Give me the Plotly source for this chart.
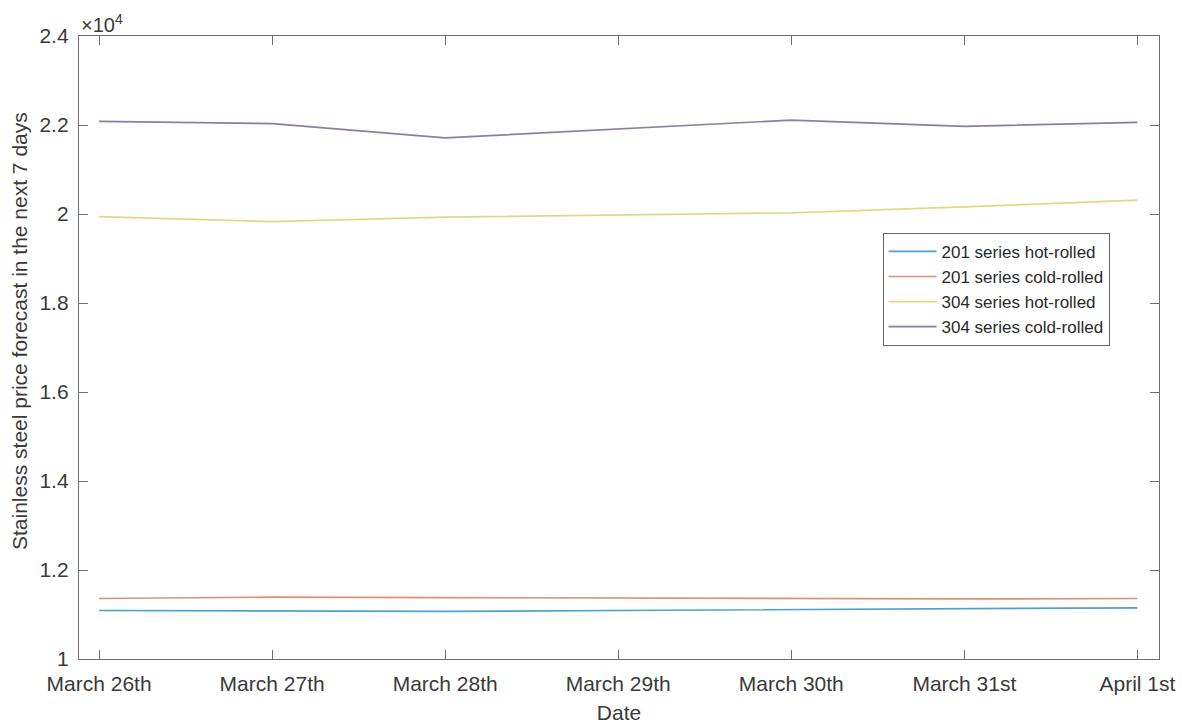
import plotly.graph_objects as go

dates = ["March 26th", "March 27th", "March 28th", "March 29th", "March 30th", "March 31st", "April 1st"]
hot_201 = [11090, 11080, 11070, 11090, 11110, 11120, 11150]
cold_201 = [11360, 11390, 11380, 11370, 11350, 11350, 11360]
hot_304 = [19940, 19830, 19930, 19985, 20025, 20160, 20310]
cold_304 = [22080, 22030, 21710, 21910, 22110, 21970, 22060]
series_names = ["201 series hot-rolled", "201 series cold-rolled", "304 series hot-rolled", "304 series cold-rolled"]
y_ticks = [10000, 12000, 14000, 16000, 18000, 20000, 22000, 24000]
y_tick_text = ["1", "1.2", "1.4", "1.6", "1.8", "2", "2.2", "2.4"]
y_title = "Stainless steel price forecast in the next 7 days"

colors = ["#4f9fcf", "#dc9272", "#e6d684", "#8c7ea2"]
series = [hot_201, cold_201, hot_304, cold_304]

fig = go.Figure()
x = list(range(len(dates)))
for name, vals, c in zip(series_names, series, colors):
    fig.add_trace(go.Scatter(x=x, y=vals, mode="lines", name=name,
                             line=dict(color=c, width=1.7)))

font = "Liberation Sans, Arial, sans-serif"
fig.update_layout(
    width=1179, height=718,
    margin=dict(l=71, r=28, t=28, b=67, autoexpand=False),
    paper_bgcolor="white", plot_bgcolor="white",
    font=dict(family=font, size=21, color="#3a3a3a"),
    showlegend=True,
    legend=dict(x=0.744, y=0.684, xanchor="left", yanchor="top",
                bordercolor="#666666", borderwidth=1, bgcolor="white",
                font=dict(size=17, color="#2a2a2a"), tracegroupgap=0,
                itemwidth=48),
    xaxis=dict(range=[-0.116, 6.125], tickmode="array", tickvals=x, ticktext=dates,
               showgrid=False, zeroline=False, showline=True, linecolor="#707070",
               linewidth=1.3, mirror="ticks", ticks="inside", ticklen=9,
               tickcolor="#707070", tickfont=dict(size=21, color="#3a3a3a"),
               ticklabelstandoff=6,
               title=dict(text="Date", font=dict(size=21, color="#3a3a3a"), standoff=10)),
    yaxis=dict(range=[10000, 24000], tickmode="array", tickvals=y_ticks, ticktext=y_tick_text,
               showgrid=False, zeroline=False, showline=True, linecolor="#707070",
               linewidth=1.3, mirror="ticks", ticks="inside", ticklen=9,
               tickcolor="#707070", tickfont=dict(size=21, color="#3a3a3a"),
               ticklabelstandoff=5),
)
fig.add_annotation(x=0, y=0.5265, xref="paper", yref="paper", xanchor="center", yanchor="middle",
                   text=y_title, textangle=-90, showarrow=False, xshift=-59,
                   font=dict(size=21, color="#3a3a3a", family=font))
fig.add_annotation(x=0, y=1, xref="paper", yref="paper", xanchor="left", yanchor="bottom",
                   text="×10<sup>4</sup>", showarrow=False,
                   font=dict(size=20, color="#3a3a3a", family=font), xshift=0, yshift=-2)
fig.write_html("out.html")
